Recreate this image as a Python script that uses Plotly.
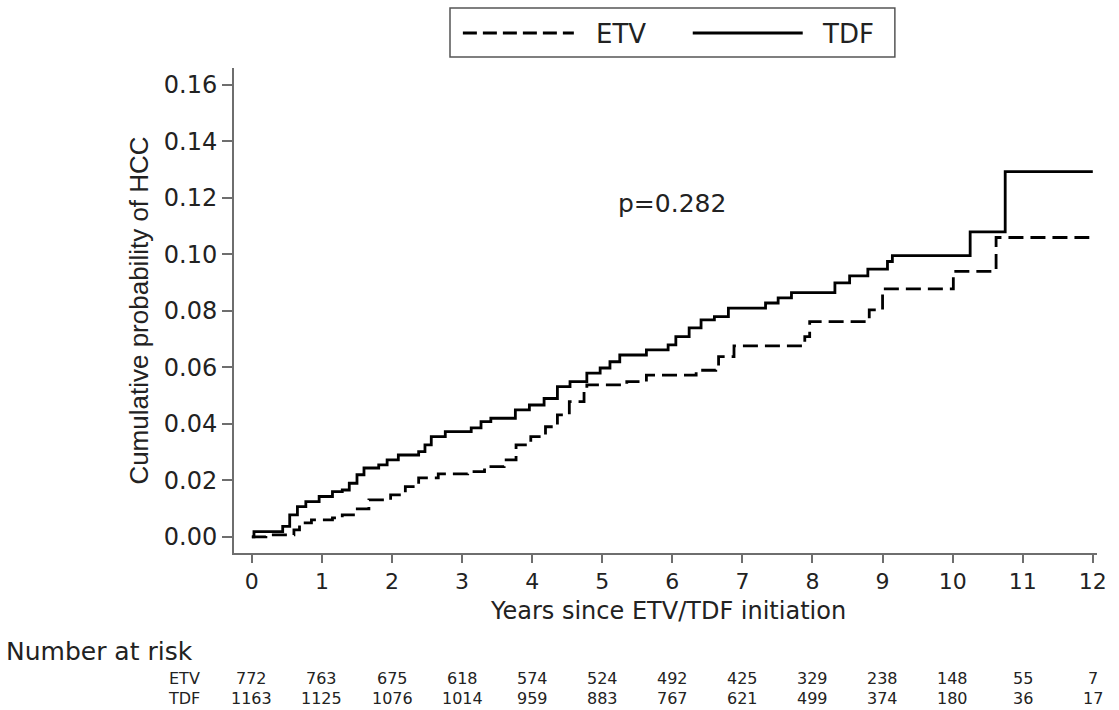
import plotly.graph_objects as go

# Kaplan-Meier style cumulative incidence (step times and values)
etv_time = [0, 0.2, 0.6, 0.68, 0.85, 1.15, 1.29, 1.48, 1.67, 1.98, 2.19, 2.38, 2.66, 3.08,
            3.32, 3.6, 3.77, 3.98, 4.19, 4.36, 4.53, 4.74, 4.78, 5.35, 5.63, 6.34, 6.62,
            6.66, 6.88, 7.89, 7.96, 8.81, 9.0, 10.01, 10.62, 11.95]
etv_prob = [0, 0.0007, 0.0025, 0.005, 0.006, 0.0067, 0.0078, 0.0099, 0.0131, 0.0149, 0.0178,
            0.0209, 0.0223, 0.0231, 0.0249, 0.0273, 0.0326, 0.0355, 0.039, 0.0432, 0.0479,
            0.052, 0.0538, 0.055, 0.0573, 0.059, 0.0603, 0.0638, 0.0676, 0.0709, 0.0762,
            0.0804, 0.0878, 0.094, 0.106, 0.106]

tdf_time = [0, 0.03, 0.44, 0.54, 0.65, 0.77, 0.96, 1.15, 1.29, 1.39, 1.5, 1.6, 1.81, 1.93,
            2.09, 2.38, 2.47, 2.56, 2.76, 3.13, 3.27, 3.41, 3.76, 3.96, 4.17, 4.36, 4.54,
            4.78, 4.97, 5.11, 5.25, 5.63, 5.94, 6.05, 6.24, 6.41, 6.6, 6.8, 7.33, 7.51, 7.7,
            8.32, 8.53, 8.79, 9.07, 9.14, 10.25, 10.75, 12.0]
tdf_prob = [0, 0.0019, 0.0037, 0.0078, 0.0107, 0.0125, 0.0143, 0.016, 0.0166, 0.019, 0.022,
            0.0244, 0.0255, 0.0273, 0.029, 0.0302, 0.0326, 0.0355, 0.0373, 0.0386, 0.0408,
            0.042, 0.045, 0.0467, 0.049, 0.0532, 0.055, 0.058, 0.0598, 0.062, 0.0644, 0.0662,
            0.068, 0.0709, 0.074, 0.0768, 0.078, 0.081, 0.0828, 0.0846, 0.0865, 0.0899,
            0.0924, 0.0948, 0.0975, 0.0996, 0.108, 0.1293, 0.1293]

risk_years = list(range(0, 13))
etv_risk = [772, 763, 675, 618, 574, 524, 492, 425, 329, 238, 148, 55, 7]
tdf_risk = [1163, 1125, 1076, 1014, 959, 883, 767, 621, 499, 374, 180, 36, 17]

y_ticks = [0.00, 0.02, 0.04, 0.06, 0.08, 0.10, 0.12, 0.14, 0.16]
p_text = "p=0.282"
series_names = ["ETV", "TDF"]
x_title = "Years since ETV/TDF initiation"
y_title = "Cumulative probability of HCC"

AX = "#6e6e6e"
TXT = "#222222"
FONT = "DejaVu Sans, Verdana, sans-serif"
AFONT = "Liberation Sans, Arial, sans-serif"
ETV_DASH = "15px,7px"

# plot-area geometry helpers (pixels -> paper fractions)
L, R, T, B = 234, 14, 68, 157
W = 1119 - L - R
H = 710 - T - B
def xp(px):
    return (px - L) / W
def yp(py):
    return (710 - B - py) / H

fig = go.Figure()
fig.add_trace(go.Scatter(x=etv_time, y=etv_prob, mode="lines", name=series_names[0],
                         showlegend=False,
                         line=dict(color="black", width=2.8, dash=ETV_DASH, shape="hv")))
fig.add_trace(go.Scatter(x=tdf_time, y=tdf_prob, mode="lines", name=series_names[1],
                         showlegend=False,
                         line=dict(color="black", width=2.8, shape="hv")))

fig.add_annotation(x=6.0, y=0.118, text=p_text, showarrow=False, xref="x", yref="y",
                   font=dict(family=FONT, size=25, color=TXT))

# Legend box (drawn like the original: long line samples)
fig.add_shape(type="rect", xref="paper", yref="paper", x0=xp(452), x1=xp(901),
              y0=yp(57), y1=yp(8), line=dict(color="#555555", width=1.5),
              fillcolor="white", layer="above")
fig.add_shape(type="line", xref="paper", yref="paper", x0=xp(465), x1=xp(577),
              y0=yp(33), y1=yp(33), line=dict(color="black", width=3, dash="14px,6px"))
fig.add_shape(type="line", xref="paper", yref="paper", x0=xp(697), x1=xp(808),
              y0=yp(33), y1=yp(33), line=dict(color="black", width=3))
for name, px in zip(series_names, [597, 825]):
    fig.add_annotation(x=xp(px), y=yp(34), xref="paper", yref="paper", text=name,
                       showarrow=False, xanchor="left", yanchor="middle",
                       font=dict(family=FONT, size=26, color=TXT))

# x-axis title placed close under the tick labels, as in the original
fig.add_annotation(x=xp(672), y=yp(611), xref="paper", yref="paper", text=x_title,
                   showarrow=False, xanchor="center", yanchor="middle",
                   font=dict(family=FONT, size=24, color=TXT))

# Number at risk table
fig.add_annotation(x=xp(2), y=yp(651), xref="paper", yref="paper", text="Number at risk",
                   showarrow=False, xanchor="left", yanchor="middle",
                   font=dict(family=FONT, size=25, color=TXT))
for label, vals, py in [("ETV", etv_risk, 678), ("TDF", tdf_risk, 698)]:
    fig.add_annotation(x=xp(202), y=yp(py), xref="paper", yref="paper", text=label,
                       showarrow=False, xanchor="right", yanchor="middle",
                       font=dict(family=FONT, size=16, color=TXT))
    for yr, v in zip(risk_years, vals):
        fig.add_annotation(x=yr, y=yp(py), xref="x", yref="paper", text=str(v),
                           showarrow=False, xanchor="center", yanchor="middle",
                           font=dict(family=FONT, size=16, color=TXT))

fig.update_layout(
    width=1119, height=710,
    margin=dict(l=L, r=R, t=T, b=B),
    paper_bgcolor="white", plot_bgcolor="white",
    font=dict(family=FONT, color=TXT),
    showlegend=False,
    xaxis=dict(range=[-0.255, 12.06], tickmode="array", tickvals=risk_years,
               ticktext=[str(v) for v in risk_years], showgrid=False, zeroline=False,
               showline=True, linecolor=AX, linewidth=2, ticks="outside", ticklen=8,
               tickcolor=AX, tickwidth=1.5, tickfont=dict(family=FONT, size=22, color=TXT)),
    yaxis=dict(range=[-0.0057, 0.1660], tickmode="array", tickvals=y_ticks,
               ticktext=[f"{v:.2f}" for v in y_ticks], showgrid=False, zeroline=False,
               showline=True, linecolor=AX, linewidth=2, ticks="outside", ticklen=10,
               tickcolor=AX, tickwidth=1.5, tickfont=dict(family=FONT, size=24, color=TXT),
               title=dict(text=y_title, standoff=8,
                          font=dict(family=AFONT, size=26, color=TXT))),
)

fig.write_html("out.html")
